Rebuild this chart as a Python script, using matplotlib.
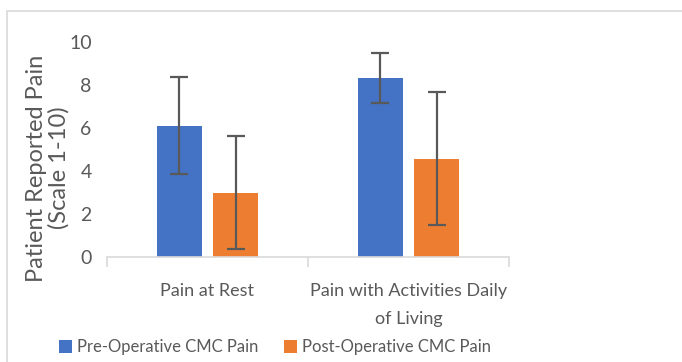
import matplotlib
matplotlib.use("Agg")
import matplotlib.pyplot as plt
from matplotlib.patches import Rectangle, Patch
import numpy as np

categories = ["Pain at Rest", "Pain with Activities Daily\nof Living"]
series_names = ["Pre-Operative CMC Pain", "Post-Operative CMC Pain"]
pre_values = [6.1, 8.33]
pre_err = [2.25, 1.17]
post_values = [3.0, 4.57]
post_err = [2.65, 3.1]
yticks = [0, 2, 4, 6, 8, 10]

plt.rcParams['font.family'] = ['Lato', 'DejaVu Sans']
TXT = '#595959'
BLUE = '#4472C4'
ORANGE = '#ED7D31'

fig = plt.figure(figsize=(6.82, 3.62), dpi=100)
fig.patch.set_facecolor('white')
fig.patches.append(Rectangle((7/682, -0.1), 1.2, 0.1 + 1 - 11/362, transform=fig.transFigure,
                             fill=False, edgecolor='#d9d9d9', linewidth=1.2))

ax = fig.add_axes([107/682, 1 - 257/362, (509-107)/682, (257-42)/362])
x = np.arange(len(categories))
w = 0.224
off = 0.141
ek = dict(ecolor='#595959', elinewidth=1.6, capsize=6.5, capthick=1.6)
ax.bar(x - off, pre_values, w, color=BLUE, yerr=pre_err, error_kw=ek, zorder=2)
ax.bar(x + off, post_values, w, color=ORANGE, yerr=post_err, error_kw=ek, zorder=2)

ax.set_xlim(-0.5, 1.5)
ax.set_ylim(0, 10)
ax.set_yticks(yticks)
ax.tick_params(axis='y', length=0, labelsize=14, labelcolor=TXT, pad=11)
ax.set_xticks(x)
ax.set_xticklabels(categories)
ax.tick_params(axis='x', which='major', length=0, labelsize=13, labelcolor=TXT, pad=19)
ax.set_xticks([-0.5, 0.5, 1.5], minor=True)
ax.tick_params(axis='x', which='minor', length=7, color='#d9d9d9', width=1.2)
for s in ['top', 'right', 'left']:
    ax.spines[s].set_visible(False)
ax.spines['bottom'].set_color('#d9d9d9')
ax.spines['bottom'].set_linewidth(1.2)
for lbl in ax.get_xticklabels():
    lbl.set_linespacing(1.9)

fig.text(48/682, 1 - 168/362, "Patient Reported Pain\n(Scale 1-10)", rotation=90,
         ha='center', va='center', fontsize=17, color=TXT, linespacing=1.05)

handles = [Patch(facecolor=BLUE), Patch(facecolor=ORANGE)]
fig.legend(handles, series_names, loc='center', bbox_to_anchor=(275/682, 1 - 347/362),
           ncol=2, frameon=False, fontsize=12, labelcolor=TXT,
           handlelength=0.8, handleheight=0.8, handletextpad=0.3, columnspacing=1.5)

fig.savefig("out.png", dpi=100)
